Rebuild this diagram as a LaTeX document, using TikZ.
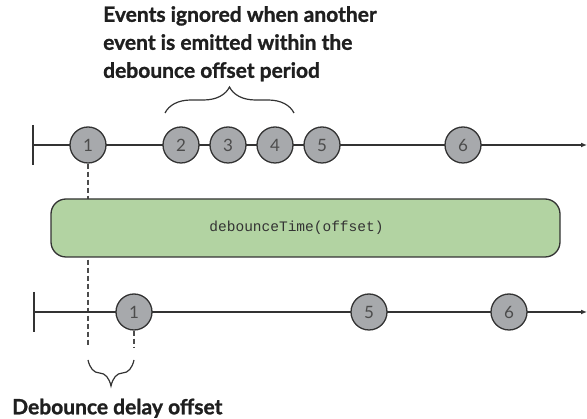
\documentclass[tikz,border=0pt]{standalone}
\usepackage{fontspec}
\setmainfont{Lato}
\newfontfamily\codefont{Liberation Mono}
\newfontfamily\heavyfont[FakeBold=1.2]{Lato Bold}
\usetikzlibrary{arrows.meta,decorations.pathreplacing,calc}

\definecolor{ink}{HTML}{333333}
\definecolor{evfill}{HTML}{A7A9AC}
\definecolor{opfill}{HTML}{B2D3A2}

\begin{document}
\begin{tikzpicture}[
  x=1pt,y=-1pt,
  >={Latex[length=6pt,width=5pt]},
  timeline/.style={draw=ink,line width=1.5pt},
  tick/.style={draw=ink,line width=1.5pt},
  ev/.style={circle,draw=ink,fill=evfill,line width=1.3pt,minimum size=36pt,
    inner sep=0pt,text=black!70,font=\fontsize{17}{17}\selectfont},
  op/.style={draw=ink,fill=opfill,line width=1.3pt,rounded corners=15pt,
    minimum width=509pt,minimum height=58pt,inner sep=0pt,
    font=\codefont\fontsize{14.5}{14.5}\selectfont,text=black!80},
  delay/.style={draw=black!70,line width=1.5pt,dash pattern=on 5pt off 3pt},
  brc/.style={draw=ink,line width=1.2pt,decorate,
    decoration={brace,amplitude=26pt,aspect=0.5}},
  lbl/.style={font=\heavyfont\fontsize{21}{28}\selectfont,text=black!88,
    inner sep=0pt,align=left}
]
\useasboundingbox (0,0) rectangle (587,419);

% source stream
\coordinate (srcstart) at (33,145);
\coordinate (srcend) at (587,145);
\draw[tick] (33,125) -- (33,165);
\draw[timeline,->] (srcstart) -- (srcend);
\node[ev] (s1) at (88,145) {1};
\node[ev] (s2) at (181,145) {2};
\node[ev] (s3) at (228,145) {3};
\node[ev] (s4) at (275,145) {4};
\node[ev] (s5) at (322,145) {5};
\node[ev] (s6) at (463,145) {6};

% delay markers
\coordinate (d1) at (88,347);
\coordinate (d2) at (134,347);
\draw[delay] (s1.south) -- (d1);

% operator
\node[op] (deb) at (305.5,228) {\hspace*{-18pt}debounceTime(offset)};

% result stream
\coordinate (outstart) at (34,312);
\coordinate (outend) at (587,312);
\draw[tick] (34,292) -- (34,332);
\draw[timeline,->] (outstart) -- (outend);
\node[ev] (o1) at (134,312) {1};
\node[ev] (o5) at (369,312) {5};
\node[ev] (o6) at (509,312) {6};
\draw[delay] (o1.south) -- (d2);

% braces
\coordinate (ignA) at (165,113);
\coordinate (ignB) at (294,113);
\draw[brc] (ignA) -- (ignB);
\draw[brc] ($(d2)+(0,13)$) -- ($(d1)+(0,13)$);

% labels
\node[lbl,anchor=north west] (ignored) at (103,6)
  {Events ignored when another\\event is emitted within the\\debounce offset period};
\node[lbl,anchor=south west] (offset) at (12,418) {Debounce delay offset};
\end{tikzpicture}
\end{document}
